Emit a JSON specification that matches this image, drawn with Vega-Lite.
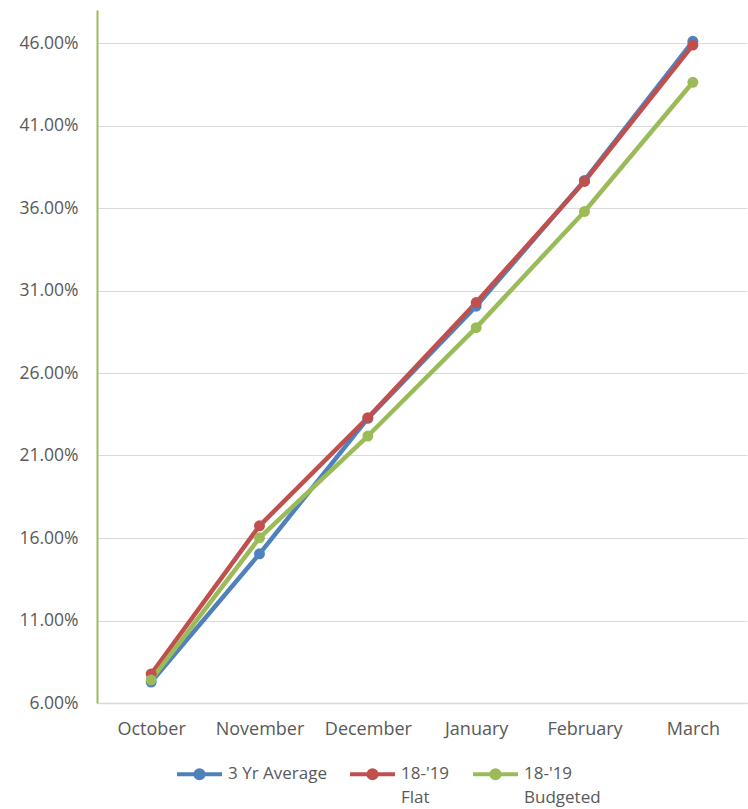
{
  "$schema": "https://vega.github.io/schema/vega-lite/v6.json",
  "width": 650,
  "height": 693,
  "autosize": {"type": "none"},
  "padding": {"left": 97, "top": 10, "right": 1, "bottom": 106},
  "background": "white",
  "config": {
    "view": {"stroke": null},
    "font": "Open Sans",
    "style": {"guide-label": {"lineHeight": 24}}
  },
  "data": {
    "values": [
      {"month": "October", "series": "3 Yr Average", "value": 0.0727},
      {"month": "November", "series": "3 Yr Average", "value": 0.1504},
      {"month": "December", "series": "3 Yr Average", "value": 0.2325},
      {"month": "January", "series": "3 Yr Average", "value": 0.3005},
      {"month": "February", "series": "3 Yr Average", "value": 0.3767},
      {"month": "March", "series": "3 Yr Average", "value": 0.4610},
      {"month": "October", "series": "18-'19 Flat", "value": 0.0776},
      {"month": "November", "series": "18-'19 Flat", "value": 0.1674},
      {"month": "December", "series": "18-'19 Flat", "value": 0.2329},
      {"month": "January", "series": "18-'19 Flat", "value": 0.3027},
      {"month": "February", "series": "18-'19 Flat", "value": 0.3761},
      {"month": "March", "series": "18-'19 Flat", "value": 0.4587},
      {"month": "October", "series": "18-'19 Budgeted", "value": 0.0740},
      {"month": "November", "series": "18-'19 Budgeted", "value": 0.1601},
      {"month": "December", "series": "18-'19 Budgeted", "value": 0.2218},
      {"month": "January", "series": "18-'19 Budgeted", "value": 0.2875},
      {"month": "February", "series": "18-'19 Budgeted", "value": 0.3579},
      {"month": "March", "series": "18-'19 Budgeted", "value": 0.4362}
    ]
  },
  "encoding": {
    "x": {
      "field": "month",
      "type": "ordinal",
      "sort": ["October", "November", "December", "January", "February", "March"],
      "scale": {"type": "point", "padding": 0.5},
      "axis": {
        "title": null,
        "labelAngle": 0,
        "labelFontSize": 18,
        "labelColor": "#595959",
        "labelPadding": 17,
        "ticks": false,
        "domainColor": "#D9D9D9",
        "domainWidth": 1.5,
        "grid": false
      }
    },
    "y": {
      "field": "value",
      "type": "quantitative",
      "scale": {"domain": [0.06, 0.48], "nice": false, "zero": false},
      "axis": {
        "title": null,
        "format": ".2%",
        "values": [0.06, 0.11, 0.16, 0.21, 0.26, 0.31, 0.36, 0.41, 0.46],
        "ticks": false,
        "labelPadding": 19,
        "labelFontSize": 17.5,
        "labelColor": "#595959",
        "domainColor": "#9BBB59",
        "domainWidth": 2,
        "gridColor": "#D9D9D9",
        "gridWidth": 1.2
      }
    },
    "color": {
      "field": "series",
      "type": "nominal",
      "sort": ["3 Yr Average", "18-'19 Flat", "18-'19 Budgeted"],
      "scale": {"range": ["#4F81BD", "#C0504D", "#9BBB59"]},
      "legend": {
        "orient": "none",
        "legendX": 78,
        "legendY": 739.5,
        "direction": "horizontal",
        "title": null,
        "padding": 0,
        "symbolType": "M-1,0L1,0M-0.18,0A0.18,0.18 0 1,0 0.18,0A0.18,0.18 0 1,0 -0.18,0Z",
        "symbolSize": 2025,
        "symbolStrokeWidth": 4,
        "labelFontSize": 17,
        "labelColor": "#595959",
        "labelOffset": 4,
        "labelBaseline": "middle",
        "columnPadding": 15,
        "labelExpr": "datum.label == '3 Yr Average' ? [datum.label, ''] : split(datum.label, ' ')"
      }
    }
  },
  "layer": [
    {"mark": {"type": "line", "strokeWidth": 4.5, "strokeJoin": "round"}},
    {"mark": {"type": "point", "filled": true, "opacity": 1, "size": 120}}
  ]
}
